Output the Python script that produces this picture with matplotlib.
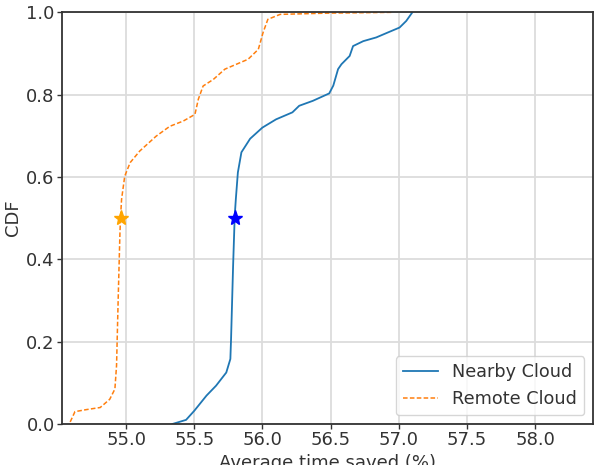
import matplotlib
matplotlib.use("Agg")
import matplotlib.pyplot as plt

# Nearby Cloud CDF (x: average time saved %, y: CDF)
nearby_x = [55.34, 55.44, 55.50, 55.59, 55.66, 55.735, 55.765, 55.77, 55.785, 55.797,
            55.805, 55.82, 55.846, 55.91, 56.00, 56.10, 56.22, 56.27, 56.37, 56.49,
            56.52, 56.555, 56.58, 56.64, 56.665, 56.74, 56.835, 56.92, 57.006, 57.055, 57.10]
nearby_y = [0.0, 0.01, 0.032, 0.069, 0.093, 0.125, 0.158, 0.206, 0.384, 0.506,
            0.546, 0.611, 0.66, 0.693, 0.72, 0.74, 0.757, 0.773, 0.785, 0.803,
            0.822, 0.862, 0.874, 0.894, 0.918, 0.93, 0.939, 0.951, 0.963, 0.979, 1.0]

# Remote Cloud CDF
remote_x = [54.59, 54.625, 54.71, 54.81, 54.88, 54.918, 54.93, 54.942, 54.955, 54.96,
            54.967, 54.99, 55.03, 55.10, 55.22, 55.32, 55.42, 55.505, 55.53, 55.565,
            55.64, 55.725, 55.81, 55.895, 55.97, 56.005, 56.04, 56.13, 56.47, 56.95]
remote_y = [0.005, 0.03, 0.035, 0.04, 0.06, 0.085, 0.142, 0.303, 0.465, 0.506,
            0.546, 0.602, 0.635, 0.663, 0.699, 0.723, 0.736, 0.752, 0.789, 0.821,
            0.837, 0.862, 0.874, 0.886, 0.91, 0.951, 0.983, 0.995, 0.998, 1.0]

# medians
median_nearby = (55.80, 0.5)
median_remote = (54.96, 0.5)

labels = ["Nearby Cloud", "Remote Cloud"]
xticks = [55.0, 55.5, 56.0, 56.5, 57.0, 57.5, 58.0]
yticks = [0.0, 0.2, 0.4, 0.6, 0.8, 1.0]

fig = plt.figure(figsize=(5.94, 4.65), dpi=100)
ax = fig.add_axes([0.1044, 0.0882, 0.8939, 0.8853])

ax.plot(nearby_x, nearby_y, color="tab:blue", lw=1.3, label=labels[0])
ax.plot(remote_x, remote_y, color="tab:orange", lw=1.1, ls="--",
        dashes=(3, 1.5), label=labels[1])
ax.plot(*median_remote, marker="*", color="orange", markersize=11, ls="none")
ax.plot(*median_nearby, marker="*", color="blue", markersize=11, ls="none")

ax.set_xlim(54.53, 58.425)
ax.set_ylim(0, 1)
ax.set_xticks(xticks)
ax.set_yticks(yticks)
ax.tick_params(labelsize=13, length=3.3, width=1.0, pad=2, colors="#333333",
               labelcolor="#333333")
ax.grid(True, color="#dcdcdc", lw=1.3)
ax.set_axisbelow(True)
for s in ax.spines.values():
    s.set_linewidth(1.3)
    s.set_color("#333333")

ax.set_xlabel("Average time saved (%)", fontsize=13, color="#333333", labelpad=3)
ax.set_ylabel("CDF", fontsize=13, color="#333333", labelpad=3)
ax.legend(loc="lower right", fontsize=12.7, handlelength=2.0, labelcolor="#333333")

fig.savefig("out.png", dpi=100)
